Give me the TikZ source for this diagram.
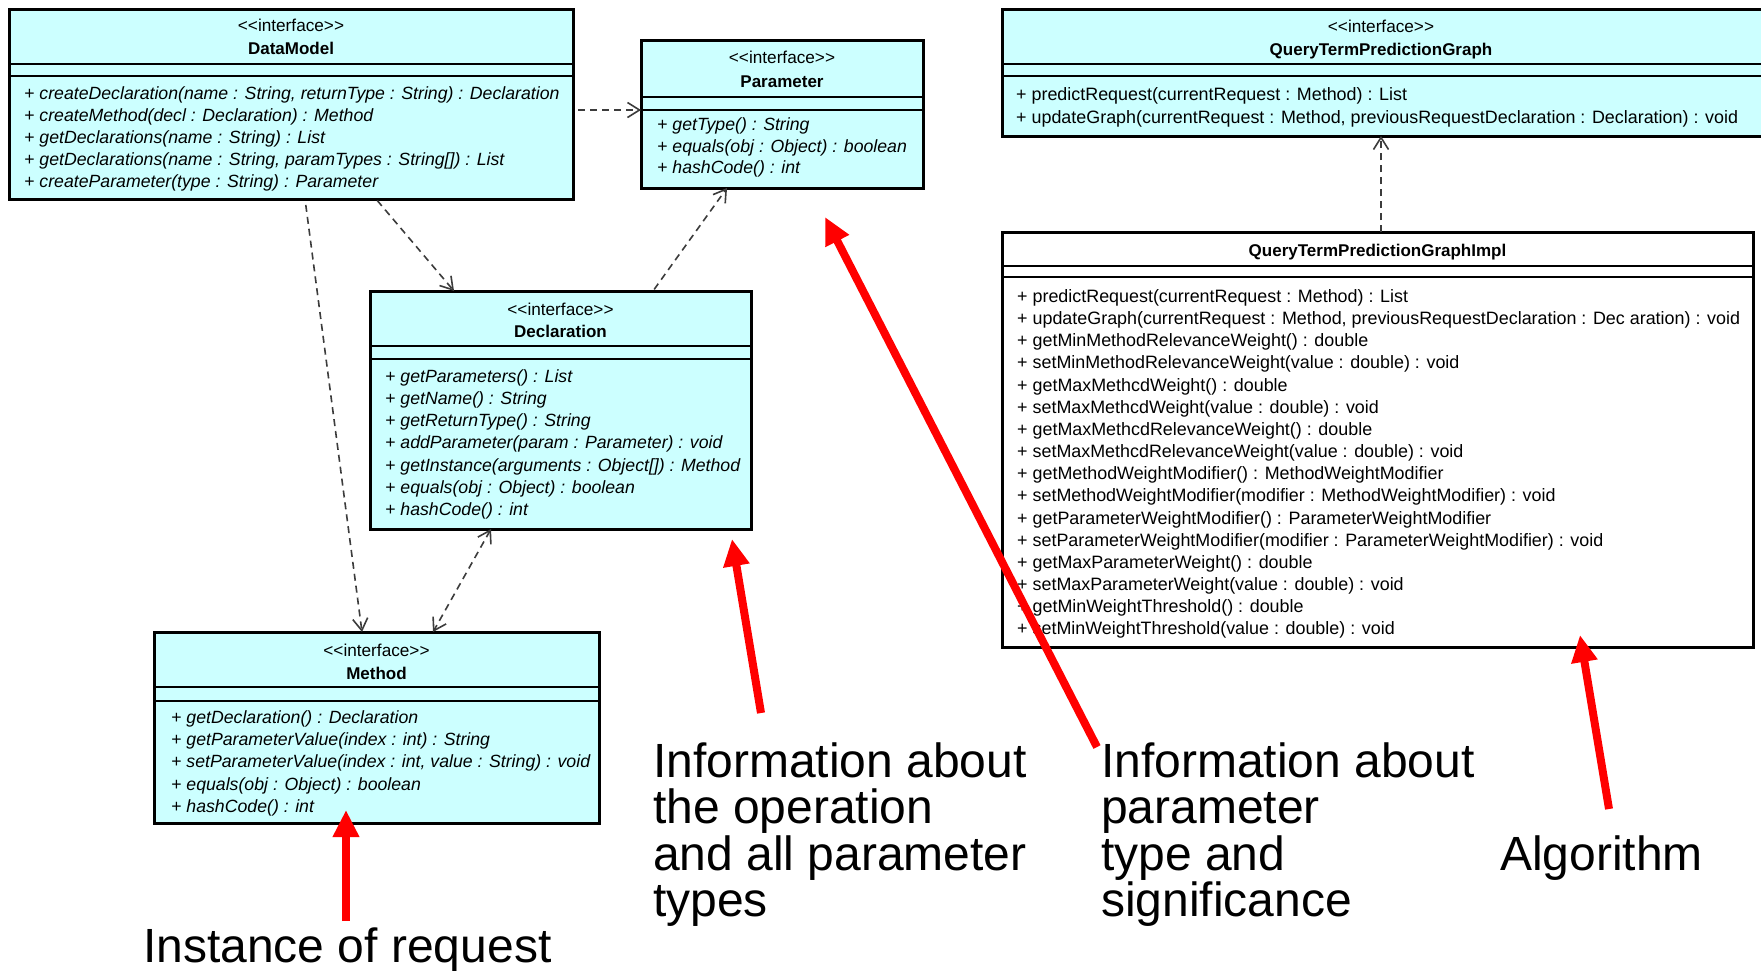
\documentclass[tikz,border=0pt]{standalone}
\usepackage{fontspec}
\setmainfont{Liberation Sans}
\usetikzlibrary{arrows.meta}
\definecolor{umlfill}{RGB}{204,255,255}
\definecolor{depgray}{RGB}{60,60,60}
\newcommand{\stereotext}{<\kern0pt<interface>\kern0pt>}
\begin{document}
\begin{tikzpicture}[x=1pt,y=-1pt,
 umlbox/.style={draw=black,line width=3pt,fill=umlfill,anchor=north west,inner sep=0pt,outer sep=0pt},
 implbox/.style={umlbox,fill=white},
 sepline/.style={line width=1.6pt},
 stereo/.style={font=\fontsize{17.2}{17.2}\selectfont,anchor=base,inner sep=0pt},
 cname/.style={font=\fontsize{17}{17}\selectfont\bfseries,anchor=base,inner sep=0pt},
 op/.style={font=\fontsize{17.7}{17.7}\selectfont\itshape,anchor=base west,inner sep=0pt},
 opi/.style={font=\fontsize{17.9}{17.9}\selectfont,anchor=base west,inner sep=0pt},
 dep/.style={draw=depgray,line width=1.6pt,dash pattern=on 7pt off 5pt,-{Straight Barb[length=12pt,width=15pt,line width=1.6pt]}},
 depboth/.style={dep,{Straight Barb[length=12pt,width=15pt,line width=1.6pt]}-{Straight Barb[length=12pt,width=15pt,line width=1.6pt]}},
 redarr/.style={draw=red,line width=8pt,-{Triangle[length=27pt,width=25pt]}},
 big/.style={font=\fontsize{48}{46.5}\selectfont,anchor=base west,inner sep=0pt}
]
\useasboundingbox (0,0) rectangle (1761,970);
\clip (0,0) rectangle (1761,970);
\fill[white] (0,0) rectangle (1761,970);

% ---------- DataModel ----------
\node[umlbox,minimum width=564,minimum height=190] (dm) at (9,9) {};
\draw[sepline] (dm.west |- 0,64) -- (dm.east |- 0,64);
\draw[sepline] (dm.west |- 0,76) -- (dm.east |- 0,76);
\node[stereo] (dms) at (291,31) {\stereotext};
\node[cname] (dmn) at (291,54) {DataModel};
\node[op] (dm1) at (24,99) {+ createDeclaration(name : String, returnType : String) : Declaration};
\node[op] (dm2) at (24,121) {+ createMethod(decl : Declaration) : Method};
\node[op] (dm3) at (24,143) {+ getDeclarations(name : String) : List};
\node[op] (dm4) at (24,165) {+ getDeclarations(name : String, paramTypes : String[]) : List};
\node[op] (dm5) at (24,187) {+ createParameter(type : String) : Parameter};

% ---------- Parameter ----------
\node[umlbox,minimum width=282,minimum height=148] (par) at (641,40) {};
\draw[sepline] (par.west |- 0,97) -- (par.east |- 0,97);
\draw[sepline] (par.west |- 0,110) -- (par.east |- 0,110);
\node[stereo] (pars) at (782,63) {\stereotext};
\node[cname] (parn) at (782,87) {Parameter};
\node[op] (par1) at (657,130) {+ getType() : String};
\node[op] (par2) at (657,152) {+ equals(obj : Object) : boolean};
\node[op] (par3) at (657,173) {+ hashCode() : int};

% ---------- Declaration ----------
\node[umlbox,minimum width=381,minimum height=238] (dec) at (370,291) {};
\draw[sepline] (dec.west |- 0,346) -- (dec.east |- 0,346);
\draw[sepline] (dec.west |- 0,359) -- (dec.east |- 0,359);
\node[stereo] (decs) at (560.5,315) {\stereotext};
\node[cname] (decn) at (560.5,337) {Declaration};
\node[op] (dec1) at (385,382) {+ getParameters() : List};
\node[op] (dec2) at (385,404) {+ getName() : String};
\node[op] (dec3) at (385,426) {+ getReturnType() : String};
\node[op] (dec4) at (385,448.5) {+ addParameter(param : Parameter) : void};
\node[op] (dec5) at (385,471) {+ getInstance(arguments : Object[]) : Method};
\node[op] (dec6) at (385,493) {+ equals(obj : Object) : boolean};
\node[op] (dec7) at (385,515) {+ hashCode() : int};

% ---------- Method ----------
\node[umlbox,minimum width=445,minimum height=191] (met) at (154,632) {};
\draw[sepline] (met.west |- 0,687) -- (met.east |- 0,687);
\draw[sepline] (met.west |- 0,701) -- (met.east |- 0,701);
\node[stereo] (mets) at (376.5,656) {\stereotext};
\node[cname] (metn) at (376.5,679) {Method};
\node[op] (met1) at (171,723) {+ getDeclaration() : Declaration};
\node[op] (met2) at (171,745) {+ getParameterValue(index : int) : String};
\node[op] (met3) at (171,767) {+ setParameterValue(index : int, value : String) : void};
\node[op] (met4) at (171,790) {+ equals(obj : Object) : boolean};
\node[op] (met5) at (171,812) {+ hashCode() : int};

% ---------- QueryTermPredictionGraph ----------
\node[umlbox,minimum width=762,minimum height=127] (qg) at (1002,9) {};
\draw[sepline] (qg.west |- 0,64) -- (qg.east |- 0,64);
\draw[sepline] (qg.west |- 0,76) -- (qg.east |- 0,76);
\node[stereo] (qgs) at (1381,32) {\stereotext};
\node[cname] (qgn) at (1381,55) {QueryTermPredictionGraph};
\node[opi] (qg1) at (1016,100) {+ predictRequest(currentRequest : Method) : List};
\node[opi] (qg2) at (1016,123) {+ updateGraph(currentRequest : Method, previousRequestDeclaration : Declaration) : void};

% ---------- QueryTermPredictionGraphImpl ----------
\node[implbox,minimum width=751,minimum height=415] (qi) at (1002,232) {};
\draw[sepline] (qi.west |- 0,266) -- (qi.east |- 0,266);
\draw[sepline] (qi.west |- 0,277) -- (qi.east |- 0,277);
\node[cname] (qin) at (1377.5,256) {QueryTermPredictionGraphImpl};
\foreach \t [count=\i from 0] in {
 {+ predictRequest(currentRequest : Method) : List},
 {+ updateGraph(currentRequest : Method, previousRequestDeclaration : Dec aration) : void},
 {+ getMinMethodRelevanceWeight() : double},
 {+ setMinMethodRelevanceWeight(value : double) : void},
 {+ getMaxMethcdWeight() : double},
 {+ setMaxMethcdWeight(value : double) : void},
 {+ getMaxMethcdRelevanceWeight() : double},
 {+ setMaxMethcdRelevanceWeight(value : double) : void},
 {+ getMethodWeightModifier() : MethodWeightModifier},
 {+ setMethodWeightModifier(modifier : MethodWeightModifier) : void},
 {+ getParameterWeightModifier() : ParameterWeightModifier},
 {+ setParameterWeightModifier(modifier : ParameterWeightModifier) : void},
 {+ getMaxParameterWeight() : double},
 {+ setMaxParameterWeight(value : double) : void},
 {+ getMinWeightThreshold() : double},
 {+ setMinWeightThreshold(value : double) : void}}
 \node[opi] (qiop\i) at (1017,302.5+22.16*\i) {\t};

% ---------- dependencies ----------
\draw[dep,shorten <=5pt] (dm.east |- 0,110) -- (par.west |- 0,110);
\draw[dep,shorten <=2pt] ([xshift=85pt]dm.south) -- ([xshift=-106.5pt]dec.north);
\draw[dep,shorten <=6pt] ([xshift=14pt]dm.south) -- ([xshift=-14.5pt]met.north);
\draw[dep,shorten <=2pt] ([xshift=92.5pt]dec.north) -- ([xshift=-55pt]par.south);
\draw[depboth] ([xshift=-69.5pt]dec.south) -- ([xshift=56.5pt]met.north);
\draw[dep] ([xshift=3.5pt]qi.north) -- ([xshift=3.5pt]qi.north |- qg.south);

% ---------- annotations ----------
\node[big] (ta1) at (653,777) {Information about};
\node[big] (ta2) at (653,823.5) {the operation};
\node[big] (ta3) at (653,870) {and all parameter};
\node[big] (ta4) at (653,916.5) {types};
\node[big] (tb1) at (1101,777) {Information about};
\node[big] (tb2) at (1101,823.5) {parameter};
\node[big] (tb3) at (1101,870) {type and};
\node[big] (tb4) at (1101,916.5) {significance};
\node[big] (tc) at (1500,870) {Algorithm};
\node[big] (td) at (143,962) {Instance of request};

\coordinate (ra0) at (346,921); \coordinate (ra1) at (346,810);
\coordinate (rb0) at (761,713); \coordinate (rb1) at (732,539);
\coordinate (rc0) at (1097,747); \coordinate (rc1) at (825,217);
\coordinate (rd0) at (1609,809); \coordinate (rd1) at (1580,635);
\draw[redarr] (ra0) -- (ra1);
\draw[redarr] (rb0) -- (rb1);
\draw[redarr] (rc0) -- (rc1);
\draw[redarr] (rd0) -- (rd1);
\end{tikzpicture}
\end{document}
